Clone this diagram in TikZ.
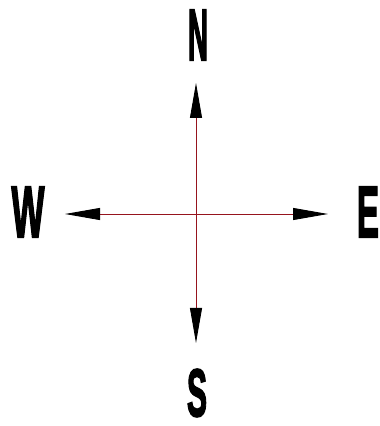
\documentclass[tikz,border=0pt]{standalone}
\usepackage{fontspec}
\setmainfont{Liberation Sans}
\usetikzlibrary{arrows.meta}
\definecolor{axisred}{RGB}{150,20,30}
\font\heavyfont="Liberation Sans/B:embolden=3" at 20pt
\tikzset{
  axisline/.style={draw=axisred, line width=0.9pt,
    -{Triangle[length=35pt,width=12pt,color=black]}},
  letter/.style={inner sep=0pt, outer sep=0pt, text=black}
}
\newcommand{\compassletter}[3]{\resizebox{#2pt}{#3pt}{\heavyfont #1}}
\begin{document}
\begin{tikzpicture}[x=1pt,y=1pt]
\useasboundingbox[fill=white] (0,0) rectangle (380,426);
\coordinate (c) at (196,212);
\coordinate (ntip) at (196,343);
\coordinate (stip) at (196,83);
\coordinate (wtip) at (65,212);
\coordinate (etip) at (328,212);
\draw[axisline] (c) -- (ntip);
\draw[axisline] (c) -- (stip);
\draw[axisline] (c) -- (wtip);
\draw[axisline] (c) -- (etip);
\node[letter] (N) at (198,391) {\compassletter{N}{20}{50}};
\node[letter] (S) at (197,33) {\compassletter{S}{20}{47}};
\node[letter] (W) at (28,214) {\compassletter{W}{33}{50}};
\node[letter] (E) at (368,214) {\compassletter{E}{22}{50}};
\end{tikzpicture}
\end{document}
